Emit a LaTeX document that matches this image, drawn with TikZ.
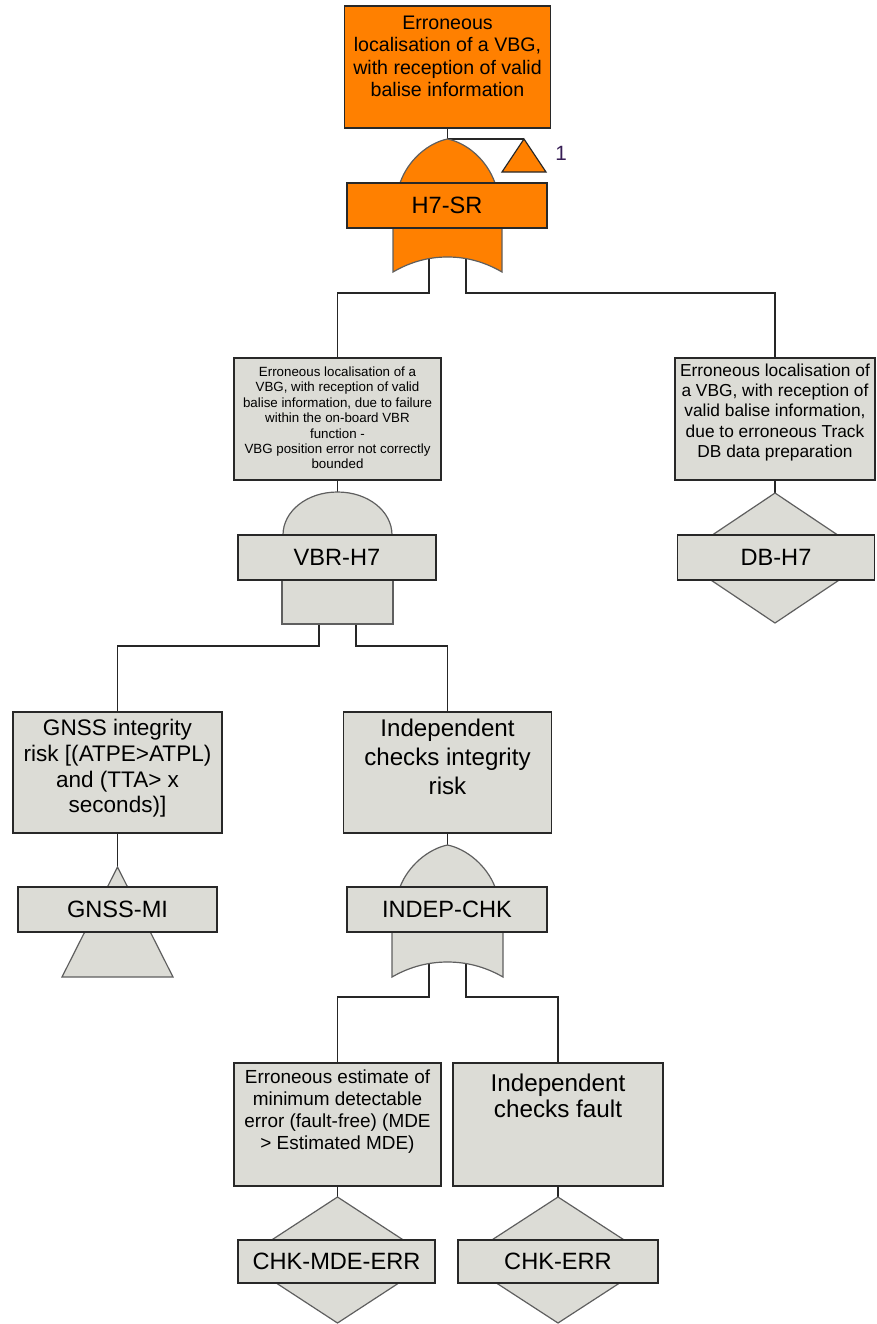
\documentclass[tikz,border=0pt]{standalone}
\usepackage{fontspec}
\setmainfont{Liberation Sans}
\newlength\pxu \setlength\pxu{0.75pt}
\definecolor{orng}{RGB}{255,128,0}
\definecolor{gfill}{RGB}{220,220,214}
\definecolor{edge}{RGB}{40,40,40}
\definecolor{gedge}{RGB}{95,95,95}
\definecolor{numc}{RGB}{55,30,85}
\pgfdeclarelayer{bg}\pgfsetlayers{bg,main}
\begin{document}
\begin{tikzpicture}[x=0.75pt,y=-0.75pt,
 box/.style={draw=edge, line width=1.1pt, inner sep=0pt},
 graybox/.style={box, fill=gfill},
 orangebox/.style={box, fill=orng},
 gate/.style={draw=gedge, line width=0.9pt},
 wire/.style={draw=black!85, line width=1pt},
 txt/.style={align=center, inner sep=0pt, text=black},
 lbl/.style={font=\fontsize{17.7}{20}\selectfont, text=black}]

\useasboundingbox (0,0) rectangle (876,1324);

% ---------- top event ----------
\node[orangebox, minimum width=206*\pxu, minimum height=122*\pxu] (top) at (447.5,67) {};
\node[txt, font=\fontsize{14.7}{16.9}\selectfont] (topT) at (447.5,56.5)
  {Erroneous\\localisation of a VBG,\\with reception of valid\\balise information};

\coordinate (h7in) at (447.5,139);
\coordinate (h7oL) at (429,250);
\coordinate (h7oR) at (466,250);
\path[gate, fill=orng] (400,190) -- (400,183) .. controls (408,160) and (428,143) .. (h7in)
  .. controls (467,143) and (487,160) .. (495,183) -- (495,190);
\path[gate, fill=orng] (393,225) -- (393,272) .. controls (412,261) and (430,257) .. (447.5,257)
  .. controls (465,257) and (483,261) .. (502,272) -- (502,225);
\node[orangebox, lbl, minimum width=200*\pxu, minimum height=45*\pxu] (h7) at (447,205.5) {H7-SR};

\coordinate (tri) at (524,139);
\path[gate, draw=edge, fill=orng] (tri) -- (546,172) -- (502,172) -- cycle;
\node[text=numc, font=\fontsize{15.5}{18}\selectfont] (one) at (561,153) {1};

% ---------- VBR branch ----------
\node[graybox, minimum width=207*\pxu, minimum height=122*\pxu] (vbr) at (337.5,419) {};
\node[txt, font=\fontsize{10}{11.55}\selectfont] (vbrT) at (337.5,418)
  {Erroneous localisation of a\\VBG, with reception of valid\\balise information, due to failure\\within the on-board VBR\\function -\\VBG position error not correctly\\bounded};

\coordinate (vbrin) at (337.5,492);
\coordinate (vbroL) at (319,615);
\coordinate (vbroR) at (356,615);
\path[gate, fill=gfill] (283,540) -- (283,535) .. controls (283,511.25) and (306.9,492) .. (vbrin)
  .. controls (368.1,492) and (392,511.25) .. (392,535) -- (392,540);
\path[gate, fill=gfill] (282,578) -- (282,624) -- (393,624) -- (393,578);
\node[graybox, lbl, minimum width=198*\pxu, minimum height=45*\pxu] (vbrg) at (337,557.5) {VBR-H7};

% ---------- DB branch ----------
\node[graybox, minimum width=200*\pxu, minimum height=122*\pxu] (db) at (775,419) {};
\node[txt, font=\fontsize{13}{15.2}\selectfont] (dbT) at (775,412.5)
  {Erroneous localisation of\\a VBG, with reception of\\valid balise information,\\due to erroneous Track\\DB data preparation};
\coordinate (dbin) at (775,493);
\path[gate, fill=gfill] (dbin) -- (872,558) -- (775,623) -- (678,558) -- cycle;
\node[graybox, lbl, minimum width=197*\pxu, minimum height=45*\pxu] (dbl) at (776,557.5) {DB-H7};

% ---------- GNSS ----------
\node[graybox, minimum width=209*\pxu, minimum height=121*\pxu] (gnss) at (117.5,772.5) {};
\node[txt, font=\fontsize{16.9}{19.2}\selectfont] (gnssT) at (117.5,768.5)
  {GNSS integrity\\risk [(ATPE>ATPL)\\and (TTA> x\\seconds)]};
\coordinate (gnssin) at (117.5,867);
\path[gate, fill=gfill] (gnssin) -- (173,977) -- (62,977) -- cycle;
\node[graybox, lbl, minimum width=199*\pxu, minimum height=45*\pxu] (gnssl) at (117.5,909.5) {GNSS-MI};

% ---------- Independent checks ----------
\node[graybox, minimum width=208*\pxu, minimum height=121*\pxu] (indep) at (447.5,772.5) {};
\node[txt, font=\fontsize{18.1}{21.75}\selectfont] (indepT) at (447.5,757)
  {Independent\\checks integrity\\risk};
\coordinate (indepin) at (447.5,845);
\coordinate (indoL) at (429,955);
\coordinate (indoR) at (466,955);
\path[gate, fill=gfill] (400,892) -- (400,887) .. controls (408,866) and (428,849) .. (indepin)
  .. controls (467,849) and (487,866) .. (495,887) -- (495,892);
\path[gate, fill=gfill] (392,930) -- (392,977) .. controls (411,966) and (430,962) .. (447.5,962)
  .. controls (465,962) and (484,966) .. (503,977) -- (503,930);
\node[graybox, lbl, minimum width=200*\pxu, minimum height=45*\pxu] (indepl) at (447,909.5) {INDEP-CHK};

% ---------- bottom events ----------
\node[graybox, minimum width=207*\pxu, minimum height=123*\pxu] (mde) at (337.5,1124.5) {};
\node[txt, font=\fontsize{14.2}{16.5}\selectfont] (mdeT) at (337.5,1112)
  {Erroneous estimate of\\minimum detectable\\error (fault-free) (MDE\\> Estimated MDE)};
\coordinate (mdein) at (337.5,1197);
\path[gate, fill=gfill] (mdein) -- (434,1260) -- (337.5,1323) -- (241,1260) -- cycle;
\node[graybox, lbl, minimum width=197*\pxu, minimum height=43*\pxu] (mdel) at (336.5,1261.5) {CHK-MDE-ERR};

\node[graybox, minimum width=210*\pxu, minimum height=123*\pxu] (chk) at (558,1124.5) {};
\node[txt, font=\fontsize{18.2}{19.5}\selectfont] (chkT) at (558,1096)
  {Independent\\checks fault};
\coordinate (chkin) at (558,1197);
\path[gate, fill=gfill] (chkin) -- (655,1260) -- (558,1323) -- (461,1260) -- cycle;
\node[graybox, lbl, minimum width=200*\pxu, minimum height=43*\pxu] (chkl) at (558,1261.5) {CHK-ERR};

% ---------- connectors ----------
\begin{pgfonlayer}{bg}
\draw[wire] (top.south) -- (h7in) -- (tri);
\draw[wire] (h7oL) -- ++(0,43) -| (vbr.north);
\draw[wire] (h7oR) -- ++(0,43) -| (db.north);
\draw[wire] (vbr.south) -- (vbrin);
\draw[wire] (vbroL) -- ++(0,31) -| (gnss.north);
\draw[wire] (vbroR) -- ++(0,31) -| (indep.north);
\draw[wire] (db.south) -- (dbin);
\draw[wire] (gnss.south) -- (gnssin);
\draw[wire] (indep.south) -- (indepin);
\draw[wire] (indoL) -- ++(0,42) -| (mde.north);
\draw[wire] (indoR) -- ++(0,42) -| (chk.north);
\draw[wire] (mde.south) -- (mdein);
\draw[wire] (chk.south) -- (chkin);
\end{pgfonlayer}
\end{tikzpicture}
\end{document}
